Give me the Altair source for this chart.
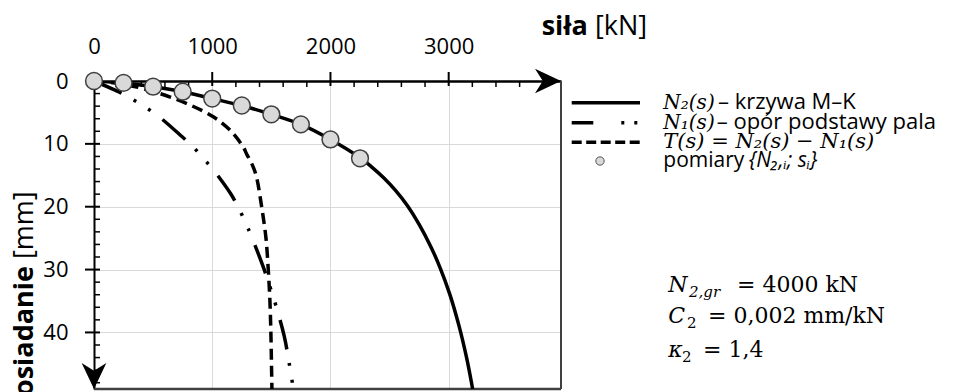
import altair as alt
import pandas as pd

# ---------------- data ----------------
X_MAX = 3950.0          # kN, right edge of plot
Y_MAX = 49.0            # mm, bottom edge of plot

X_LABELS = [0, 1000, 2000, 3000]
Y_LABELS = [0, 10, 20, 30, 40]
X_MAJOR = [1000, 2000, 3000]
X_MINOR = [200, 400, 600, 800, 1200, 1400, 1600, 1800, 2200, 2400, 2600, 2800,
           3200, 3400, 3600, 3800]
Y_MAJOR = [10, 20, 30, 40]
Y_MINOR = [2, 4, 6, 8, 12, 14, 16, 18, 22, 24, 26, 28, 32, 34, 36, 38, 42, 44, 46, 48]

# measured points {N2,i ; s_i}
meas_N = [0, 250, 500, 750, 1000, 1250, 1500, 1750, 2000, 2250]
meas_s = [0.0, 0.3, 0.9, 1.7, 2.8, 3.9, 5.3, 6.9, 9.3, 12.3]

# N2(s) - M-K curve
n2_N = [0, 250, 500, 750, 1000, 1250, 1500, 1750, 2000, 2250, 2350, 2450, 2550,
        2650, 2750, 2850, 2925, 3009, 3088, 3150, 3193, 3205]
n2_s = [0.0, 0.3, 0.9, 1.7, 2.8, 3.9, 5.3, 6.9, 9.3, 12.2, 13.7, 15.4, 17.4,
        19.8, 22.8, 26.4, 29.6, 33.9, 39.0, 43.9, 48.0, 49.3]

# N1(s) - base resistance
n1_N = [0, 206, 332, 445, 558, 741, 839, 924, 1008, 1155, 1215, 1276, 1327, 1426,
        1488, 1538, 1609, 1651, 1688]
n1_s = [0.0, 1.7, 3.0, 4.3, 5.8, 8.8, 10.5, 12.3, 14.1, 17.9, 19.9, 22.3, 24.5, 29.3,
        32.7, 35.7, 40.6, 44.9, 49.2]

# T(s) = N2(s) - N1(s)
t_N = [0, 250, 558, 811, 1009, 1150, 1262, 1291, 1347, 1375, 1418, 1454, 1474,
       1488, 1496, 1505]
t_s = [0.0, 0.5, 2.0, 3.8, 5.7, 7.8, 10.5, 11.6, 13.7, 15.3, 20.0, 24.9, 30.0,
       35.0, 40.0, 49.2]

LEG_MATH = ["N₂(s)", "N₁(s)", "T(s) = N₂(s) − N₁(s)"]
LEG_TEXT = ["– krzywa M–K", "– opór podstawy pala", "pomiary", "{N₂,ᵢ; sᵢ}"]

# ---------------- layout ----------------
W, H = 467, 308
PAD_L, PAD_T = 94, 81
FONT = "Open Sans"
MATH = "DejaVu Serif"

xs = alt.Scale(domain=[0, X_MAX], nice=False, zero=False)
ys = alt.Scale(domain=[0, Y_MAX], nice=False, zero=False, reverse=True)

x_axis = alt.Axis(orient="top", values=X_LABELS, title=None, format="d",
                  labelFont=FONT, labelFontSize=22, labelColor="black",
                  labelPadding=23, ticks=False, tickSize=0,
                  domainColor="black", domainWidth=2.5,
                  grid=True, gridColor="#d9d9d9", gridWidth=1,
                  labelFlush=False, labelOverlap=False)
y_axis = alt.Axis(orient="left", values=Y_LABELS, title=None, format="d",
                  labelFont=FONT, labelFontSize=22, labelColor="black",
                  labelPadding=26, ticks=False, tickSize=0,
                  domainColor="black", domainWidth=2,
                  grid=True, gridColor="#d9d9d9", gridWidth=1,
                  labelFlush=False, labelOverlap=False)

X = lambda: alt.X("N:Q", scale=xs, axis=x_axis)
Y = lambda: alt.Y("s:Q", scale=ys, axis=y_axis)

def df(N, s):
    return pd.DataFrame({"N": N, "s": s})

one = pd.DataFrame({"k": [0]})

layers = []

# frame (right and bottom)
layers.append(alt.Chart(pd.DataFrame({"N": [X_MAX]})).mark_rule(
    color="#404040", strokeWidth=2).encode(x=X(), y=alt.value(0), y2=alt.value(H)))
layers.append(alt.Chart(pd.DataFrame({"s": [Y_MAX]})).mark_rule(
    color="#404040", strokeWidth=2.5).encode(y=Y(), x=alt.value(0), x2=alt.value(W)))

# curves
CURVE = "catmull-rom"
layers.append(alt.Chart(df(n1_N, n1_s)).mark_line(
    color="black", strokeWidth=3.5, strokeDash=[30, 14, 3, 14, 3, 15],
    interpolate=CURVE, clip=True).encode(x=X(), y=Y()))
layers.append(alt.Chart(df(t_N, t_s)).mark_line(
    color="black", strokeWidth=3.5, strokeDash=[11, 6],
    interpolate=CURVE, clip=True).encode(x=X(), y=Y()))
layers.append(alt.Chart(df(n2_N, n2_s)).mark_line(
    color="black", strokeWidth=3.5, interpolate=CURVE, clip=True
).encode(x=X(), y=Y()))

# ticks
layers.append(alt.Chart(pd.DataFrame({"N": X_MINOR})).mark_rule(
    color="black", strokeWidth=1.5).encode(x=X(), y=alt.value(0), y2=alt.value(6)))
layers.append(alt.Chart(pd.DataFrame({"N": X_MAJOR})).mark_rule(
    color="black", strokeWidth=2).encode(x=X(), y=alt.value(-9), y2=alt.value(5)))
layers.append(alt.Chart(pd.DataFrame({"s": Y_MINOR})).mark_rule(
    color="black", strokeWidth=1.5).encode(y=Y(), x=alt.value(0), x2=alt.value(6)))
layers.append(alt.Chart(pd.DataFrame({"s": Y_MAJOR})).mark_rule(
    color="black", strokeWidth=2).encode(y=Y(), x=alt.value(-9), x2=alt.value(6)))

# measured points
layers.append(alt.Chart(df(meas_N, meas_s)).mark_point(
    shape="circle", filled=True, size=283, fill="#d9d9d9", stroke="#404040",
    strokeWidth=1.5, opacity=1).encode(x=X(), y=Y()))

# axis arrowheads
ARROW_R = "M1,0L-1,-0.95L-0.4,0L-1,0.95Z"
ARROW_D = "M0,1L-0.95,-1L0,-0.4L0.95,-1Z"
layers.append(alt.Chart(df([X_MAX], [0.0])).mark_point(
    shape=ARROW_R, size=676, filled=True, color="black", opacity=1, xOffset=-13
).encode(x=X(), y=Y()))
layers.append(alt.Chart(df([0.0], [Y_MAX])).mark_point(
    shape=ARROW_D, size=676, filled=True, color="black", opacity=1, yOffset=-13
).encode(x=X(), y=Y()))


def txt(s, x, y, size, font=FONT, style="normal", weight="normal",
        align="left", angle=0):
    return alt.Chart(one).mark_text(
        text=s, font=font, fontSize=size, fontStyle=style, fontWeight=weight,
        align=align, baseline="alphabetic", angle=angle, color="black"
    ).encode(x=alt.value(x), y=alt.value(y))


# axis titles
layers.append(txt("siła", 447.7, -46, 27, weight="bold"))
layers.append(txt("[kN]", 501, -46, 27))
layers.append(txt("osiadanie", -61, 185, 27, weight="bold", align="right", angle=270))
layers.append(txt("[mm]", -61, 178, 27, align="left", angle=270))

# legend
LX1, LX2 = 477.7, 546
ROW_Y = [21.7, 41.7, 61.3, 80]
layers.append(alt.Chart(one).mark_rule(color="black", strokeWidth=3.5).encode(
    x=alt.value(LX1), x2=alt.value(LX2), y=alt.value(ROW_Y[0])))
layers.append(alt.Chart(one).mark_rule(color="black", strokeWidth=3.5,
                                       strokeDash=[21.6, 28, 3, 10, 3, 60]).encode(
    x=alt.value(LX1), x2=alt.value(LX2), y=alt.value(ROW_Y[1])))
layers.append(alt.Chart(one).mark_rule(color="black", strokeWidth=3.5,
                                       strokeDash=[10, 4.5]).encode(
    x=alt.value(LX1), x2=alt.value(LX2), y=alt.value(ROW_Y[2])))
layers.append(alt.Chart(one).mark_point(
    shape="circle", filled=True, size=70, fill="#d9d9d9", stroke="#555555",
    strokeWidth=1, opacity=1).encode(x=alt.value(506), y=alt.value(ROW_Y[3])))

TX = 569.3
layers.append(txt(LEG_MATH[0], TX, ROW_Y[0] + 6, 20, font=MATH, style="italic"))
layers.append(txt(LEG_TEXT[0], 624, ROW_Y[0] + 6, 22))
layers.append(txt(LEG_MATH[1], TX, ROW_Y[1] + 6, 20, font=MATH, style="italic"))
layers.append(txt(LEG_TEXT[1], 622.7, ROW_Y[1] + 6, 22))
layers.append(txt(LEG_MATH[2], TX, ROW_Y[2] + 6, 21, font=MATH, style="italic"))
layers.append(txt(LEG_TEXT[2], TX, ROW_Y[3] + 6, 21))
layers.append(txt(LEG_TEXT[3], 655, ROW_Y[3] + 6, 21, style="italic"))

# parameters
PX = 574.3
layers.append(txt("N", PX, 210.7, 22, font=MATH, style="italic"))
layers.append(txt("2,gr", 595, 215.7, 15, font=MATH, style="italic"))
layers.append(txt("= 4000 kN", 643, 210.7, 22, font=MATH))
layers.append(txt("C", PX, 242.3, 22, font=MATH, style="italic"))
layers.append(txt("2", 593, 247.3, 15, font=MATH))
layers.append(txt("= 0,002 mm/kN", 614, 242.3, 22, font=MATH))
layers.append(txt("κ", PX, 275.7, 22, font=MATH, style="italic"))
layers.append(txt("2", 588, 280.7, 15, font=MATH))
layers.append(txt("= 1,4", 609, 275.7, 22, font=MATH))

chart = alt.layer(*layers).properties(
    width=W, height=H,
    padding={"left": PAD_L, "top": PAD_T, "right": 968 - PAD_L - W,
             "bottom": 392 - PAD_T - H},
    autosize=alt.AutoSizeParams(type="none"),
    background="white",
).configure_view(strokeWidth=0)

chart.save("out.html", embed_options={"renderer": "svg", "actions": False})
